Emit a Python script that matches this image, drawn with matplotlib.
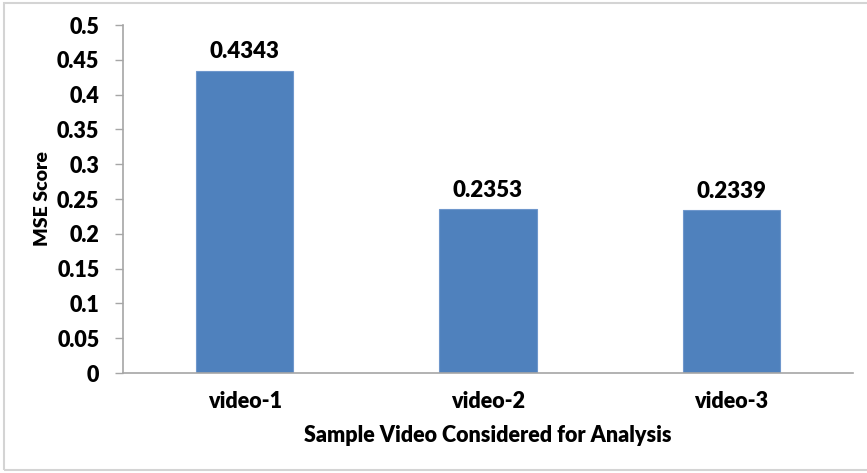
import matplotlib
matplotlib.use("Agg")
import matplotlib.pyplot as plt
from matplotlib.patches import Rectangle
from matplotlib.ticker import FuncFormatter

categories = ["video-1", "video-2", "video-3"]
mse_scores = [0.4343, 0.2353, 0.2339]
y_ticks = [0, 0.05, 0.1, 0.15, 0.2, 0.25, 0.3, 0.35, 0.4, 0.45, 0.5]

W, H = 867, 473
fig = plt.figure(figsize=(W / 100, H / 100), dpi=100)
plt.rcParams["font.family"] = ["Lato", "DejaVu Sans"]

# light chart-area frame
fig.patches.append(Rectangle((4 / W, 3 / H), 1.2, (470 - 3) / H,
                             transform=fig.transFigure, fill=False,
                             edgecolor="#D4D4D4", linewidth=1.5))

ax = fig.add_axes([123 / W, 1 - 373 / H, (853 - 123) / W, (373 - 25) / H])
x = range(len(categories))
bars = ax.bar(x, mse_scores, width=0.4, color="#4F81BD",
              edgecolor="#6F97CC", linewidth=0.8, zorder=2)
for b, v in zip(bars, mse_scores):
    ax.text(b.get_x() + b.get_width() / 2, v + 0.012, f"{v:.4f}",
            ha="center", va="bottom", fontsize=16, fontweight="heavy")

ax.set_xlim(-0.5, len(categories) - 0.5)
ax.set_ylim(0, 0.5)
ax.set_yticks(y_ticks)
ax.yaxis.set_major_formatter(FuncFormatter(lambda v, p: f"{v:g}"))
ax.set_xticks(list(x))
ax.set_xticklabels(categories)

for s in ["top", "right"]:
    ax.spines[s].set_visible(False)
for s in ["left", "bottom"]:
    ax.spines[s].set_color("#A6A6A6")
    ax.spines[s].set_linewidth(1.2)
ax.tick_params(axis="y", length=6, width=1, color="#A6A6A6", pad=11,
               labelsize=15.5)
ax.tick_params(axis="x", length=0, pad=13, labelsize=15.5)
for lbl in ax.get_yticklabels() + ax.get_xticklabels():
    lbl.set_fontweight("heavy")

ax.set_xlabel("Sample Video Considered for Analysis", fontsize=15.5,
              fontweight="heavy", labelpad=9)
ax.set_ylabel("MSE Score", fontsize=14, fontweight="heavy", labelpad=4)

fig.savefig("out.png", dpi=100)
